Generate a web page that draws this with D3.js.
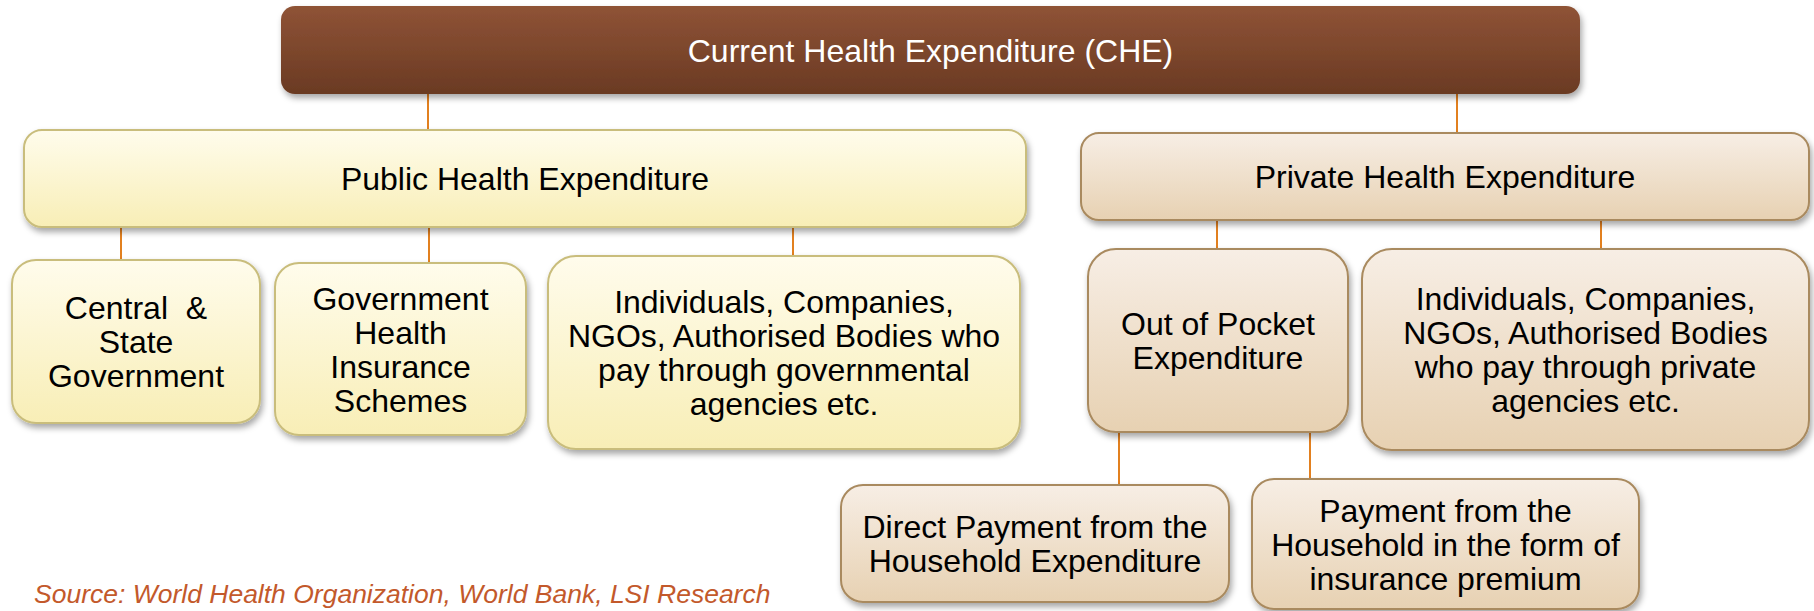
<!DOCTYPE html>
<html>
<head>
<meta charset="utf-8">
<script src="https://cdn.jsdelivr.net/npm/d3@7"></script>
<style>
  html, body { margin: 0; padding: 0; background: #ffffff; }
  svg { display: block; }
  text { font-family: "Liberation Sans", Arial, sans-serif; white-space: pre; }
</style>
</head>
<body>
<script>
'use strict';
// nodes of the tree: id, parent and the lines of text in each box
const nodeIds = ["che", "public", "private", "central", "govIns", "pubOthers", "oop", "privOthers", "direct", "premium"];
const parentIds = [null, "che", "che", "public", "public", "public", "private", "private", "oop", "oop"];
const nodeGroups = ["top", "public", "private", "public", "public", "public", "private", "private", "private", "private"];
const nodeLines = [
  ["Current Health Expenditure (CHE)"],
  ["Public Health Expenditure"],
  ["Private Health Expenditure"],
  ["Central  &", "State", "Government"],
  ["Government", "Health", "Insurance", "Schemes"],
  ["Individuals, Companies,", "NGOs, Authorised Bodies who", "pay through governmental", "agencies etc."],
  ["Out of Pocket", "Expenditure"],
  ["Individuals, Companies,", "NGOs, Authorised Bodies", "who pay through private", "agencies etc."],
  ["Direct Payment from the", "Household Expenditure"],
  ["Payment from the", "Household in the form of", "insurance premium"]
];
const sourceNote = "Source: World Health Organization, World Bank, LSI Research";

// box geometry (pixels) and where each connector leaves the parent
const layout = {
  che:        { x: 281,  y: 6,   w: 1299, h: 88,  r: 14, lx: null },
  public:     { x: 24,   y: 130, w: 1002, h: 97,  r: 18, lx: 428 },
  private:    { x: 1081, y: 133, w: 728,  h: 87,  r: 18, lx: 1457 },
  central:    { x: 12,   y: 260, w: 248,  h: 163, r: 24, lx: 121 },
  govIns:     { x: 275,  y: 263, w: 251,  h: 172, r: 24, lx: 429 },
  pubOthers:  { x: 548,  y: 256, w: 472,  h: 193, r: 28, lx: 793 },
  oop:        { x: 1088, y: 249, w: 260,  h: 183, r: 28, lx: 1217 },
  privOthers: { x: 1362, y: 249, w: 447,  h: 201, r: 30, lx: 1601 },
  direct:     { x: 841,  y: 485, w: 388,  h: 117, r: 22, lx: 1119 },
  premium:    { x: 1252, y: 479, w: 387,  h: 130, r: 22, lx: 1310 }
};

const W = 1814, H = 611;
const fontSize = 32, lineH = 34;

const svg = d3.select('body').append('svg')
  .attr('width', W)
  .attr('height', H);

const defs = svg.append('defs');
function addGradient(id, c0, c1) {
  let g = defs.append('linearGradient').attr('id', id)
    .attr('x1', 0).attr('y1', 0).attr('x2', 0).attr('y2', 1);
  g.append('stop').attr('offset', '0%').attr('stop-color', c0);
  g.append('stop').attr('offset', '100%').attr('stop-color', c1);
}
addGradient('g-top', '#8f5336', '#6a3a23');
addGradient('g-public', '#fffcec', '#f8eeb6');
addGradient('g-private', '#f7eee5', '#e7d1b2');

defs.append('filter').attr('id', 'shadow')
  .attr('x', '-10%').attr('y', '-10%').attr('width', '120%').attr('height', '130%')
  .append('feDropShadow')
  .attr('dx', 2).attr('dy', 4).attr('stdDeviation', 3)
  .attr('flood-color', '#000').attr('flood-opacity', 0.35);

const styles = {
  top: { fill: 'url(#g-top)', stroke: 'none', text: '#ffffff' },
  public: { fill: 'url(#g-public)', stroke: '#c9bd7c', text: '#000000' },
  private: { fill: 'url(#g-private)', stroke: '#a98a5f', text: '#000000' }
};

const table = nodeIds.map((id, i) => ({ id: id, parent: parentIds[i], group: nodeGroups[i], lines: nodeLines[i] }));
const root = d3.stratify().id((d) => d.id).parentId((d) => d.parent)(table);

// connectors first so boxes sit on top of them
svg.append('g').selectAll('line')
  .data(root.links())
  .enter()
  .append('line')
  .attr('x1', (d) => layout[d.target.id].lx)
  .attr('x2', (d) => layout[d.target.id].lx)
  .attr('y1', (d) => layout[d.source.id].y + layout[d.source.id].h)
  .attr('y2', (d) => layout[d.target.id].y)
  .attr('stroke', '#e2801f')
  .attr('stroke-width', 2);

const boxes = svg.append('g').selectAll('g.node')
  .data(root.descendants())
  .enter()
  .append('g')
  .attr('class', 'node');

boxes.append('rect')
  .attr('x', (d) => layout[d.id].x)
  .attr('y', (d) => layout[d.id].y)
  .attr('width', (d) => layout[d.id].w)
  .attr('height', (d) => layout[d.id].h)
  .attr('rx', (d) => layout[d.id].r)
  .attr('fill', (d) => styles[d.data.group].fill)
  .attr('stroke', (d) => styles[d.data.group].stroke)
  .attr('stroke-width', 2)
  .attr('filter', 'url(#shadow)');

boxes.append('text')
  .attr('text-anchor', 'middle')
  .style('font-size', fontSize + 'px')
  .attr('fill', (d) => styles[d.data.group].text)
  .each(function (d) {
    let b = layout[d.id];
    let n = d.data.lines.length;
    let cx = b.x + b.w / 2;
    let cy = b.y + b.h / 2;
    // first baseline so the block of lines is centred on the box
    let y0 = cy - (n - 1) * lineH / 2 + fontSize * 0.36;
    d3.select(this).selectAll('tspan')
      .data(d.data.lines)
      .enter()
      .append('tspan')
      .attr('x', cx)
      .attr('y', (t, k) => y0 + k * lineH)
      .text((t) => t);
  });

svg.append('text')
  .attr('x', 34)
  .attr('y', 603)
  .style('font-size', '26.5px')
  .style('font-style', 'italic')
  .attr('fill', '#c3592b')
  .text(sourceNote);
</script>
</body>
</html>
